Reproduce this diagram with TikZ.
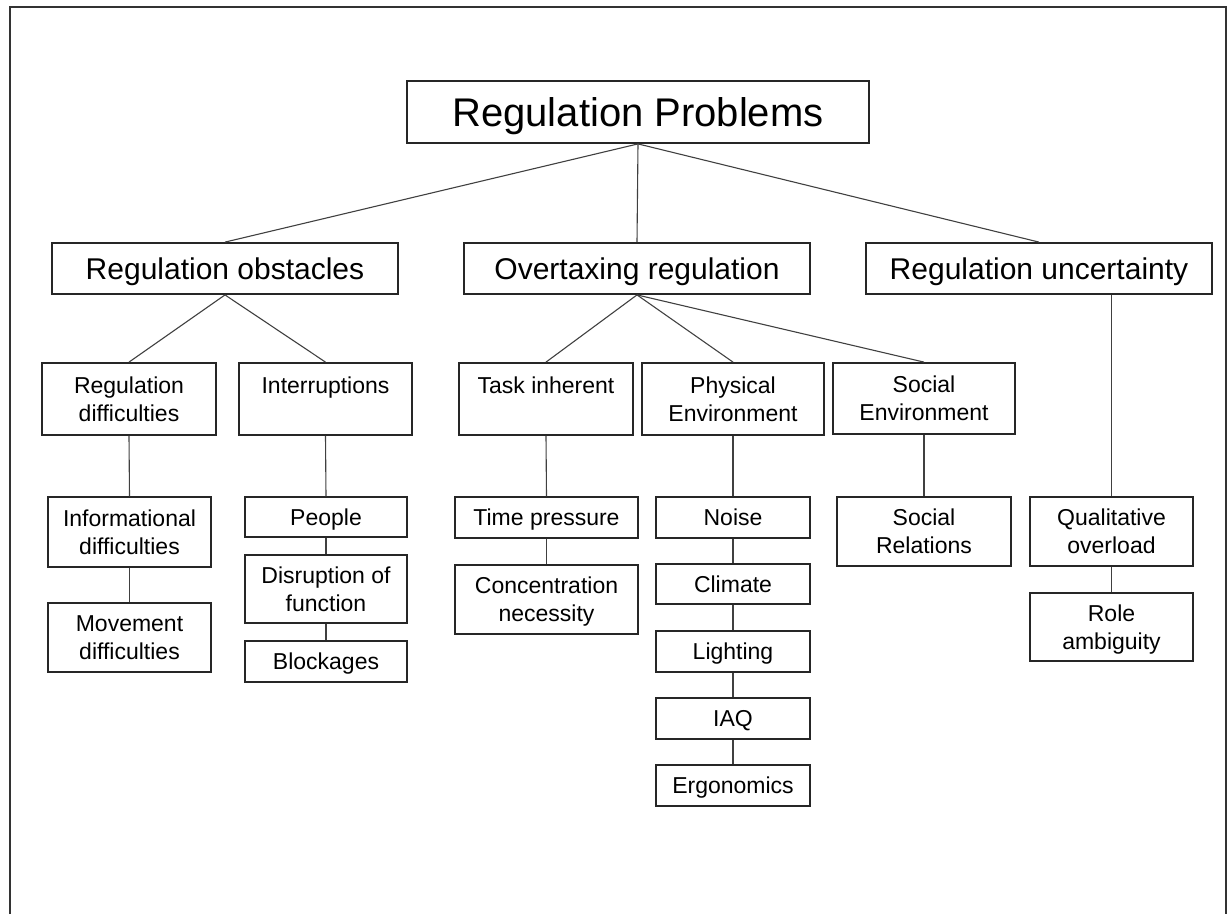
\documentclass[tikz,border=0pt]{standalone}
\usepackage{fontspec}
\setmainfont{Liberation Sans}
\begin{document}
\begin{tikzpicture}[x=1pt,y=-1pt,
  box/.style={draw=black!85,rectangle,inner sep=0pt,align=center,text depth=0pt},
  rootbox/.style={box,line width=1.8pt,font=\fontsize{40}{48}\selectfont},
  topbox/.style={box,line width=1.8pt,font=\fontsize{30}{36}\selectfont},
  midbox/.style={box,line width=1.8pt,font=\fontsize{23}{28}\selectfont},
  leafbox/.style={box,line width=1.2pt,font=\fontsize{23}{28}\selectfont},
  link/.style={draw=black!75,line width=1.1pt}]
\useasboundingbox (0,0) rectangle (1232,914);
% open outer frame
\draw[line width=1.4pt,black!80] (10,914) -- (10,7) -- (1226,7) -- (1226,914);

% root
\node[rootbox,minimum width=462pt,minimum height=62pt] (root) at (638,112) {Regulation Problems};

% first level
\node[topbox,minimum width=346pt,minimum height=51pt] (obs) at (225,268.5) {Regulation obstacles};
\node[topbox,minimum width=346pt,minimum height=51pt] (over) at (637,268.5) {Overtaxing regulation};
\node[topbox,minimum width=346pt,minimum height=51pt] (unc) at (1039,268.5) {Regulation uncertainty};

% second level
\node[midbox,minimum width=174pt,minimum height=72pt] (regdiff) at (129,399) {Regulation\\difficulties};
\node[midbox,minimum width=173pt,minimum height=72pt] (interr) at (325.5,399) {Interruptions\\~};
\node[midbox,minimum width=174pt,minimum height=72pt] (task) at (546,399) {Task inherent\\~};
\node[midbox,minimum width=182pt,minimum height=72pt] (phys) at (733,399) {Physical\\Environment};
\node[midbox,minimum width=182pt,minimum height=71pt] (social) at (924,398.5) {Social\\Environment};

% leaves
\node[leafbox,minimum width=163pt,minimum height=70pt] (info) at (129.5,532) {Informational\\difficulties};
\node[leafbox,minimum width=163pt,minimum height=69pt] (move) at (129.5,637.5) {Movement\\difficulties};
\node[leafbox,minimum width=162pt,minimum height=40pt] (people) at (326,517) {People};
\node[leafbox,minimum width=162pt,minimum height=68pt] (disrupt) at (326,589) {Disruption of\\function};
\node[leafbox,minimum width=162pt,minimum height=41pt] (block) at (326,661.5) {Blockages};
\node[leafbox,minimum width=183pt,minimum height=41pt] (time) at (546.5,517.5) {Time pressure};
\node[leafbox,minimum width=183pt,minimum height=69pt] (conc) at (546.5,599.5) {Concentration\\necessity};
\node[leafbox,minimum width=154pt,minimum height=41pt] (noise) at (733,517.5) {Noise};
\node[leafbox,minimum width=154pt,minimum height=40pt] (climate) at (733,584) {Climate};
\node[leafbox,minimum width=154pt,minimum height=41pt] (light) at (733,651.5) {Lighting};
\node[leafbox,minimum width=154pt,minimum height=41pt] (iaq) at (733,718.5) {IAQ};
\node[leafbox,minimum width=154pt,minimum height=41pt] (ergo) at (733,785.5) {Ergonomics};
\node[leafbox,minimum width=174pt,minimum height=69pt] (socrel) at (924,531.5) {Social\\Relations};
\node[leafbox,minimum width=163pt,minimum height=69pt] (qual) at (1111.5,531.5) {Qualitative\\overload};
\node[leafbox,minimum width=163pt,minimum height=68pt] (role) at (1111.5,627) {Role\\ambiguity};

% connectors
\draw[link] (root.south) -- (obs.north);
\draw[link] (root.south) -- (over.north);
\draw[link] (root.south) -- (unc.north);
\draw[link] (obs.south) -- (regdiff.north);
\draw[link] (obs.south) -- (interr.north);
\draw[link] (over.south) -- (task.north);
\draw[link] (over.south) -- (phys.north);
\draw[link] (over.south) -- (social.north);
\draw[link] (qual.north |- unc.south) -- (qual.north);
\draw[link] (regdiff.south) -- (info.north);
\draw[link] (info.south) -- (move.north);
\draw[link] (interr.south) -- (people.north);
\draw[link] (people.south) -- (disrupt.north);
\draw[link] (disrupt.south) -- (block.north);
\draw[link] (task.south) -- (time.north);
\draw[link] (time.south) -- (conc.north);
\draw[link] (phys.south) -- (noise.north);
\draw[link] (noise.south) -- (climate.north);
\draw[link] (climate.south) -- (light.north);
\draw[link] (light.south) -- (iaq.north);
\draw[link] (iaq.south) -- (ergo.north);
\draw[link] (social.south) -- (socrel.north);
\draw[link] (qual.south) -- (role.north);
\end{tikzpicture}
\end{document}
